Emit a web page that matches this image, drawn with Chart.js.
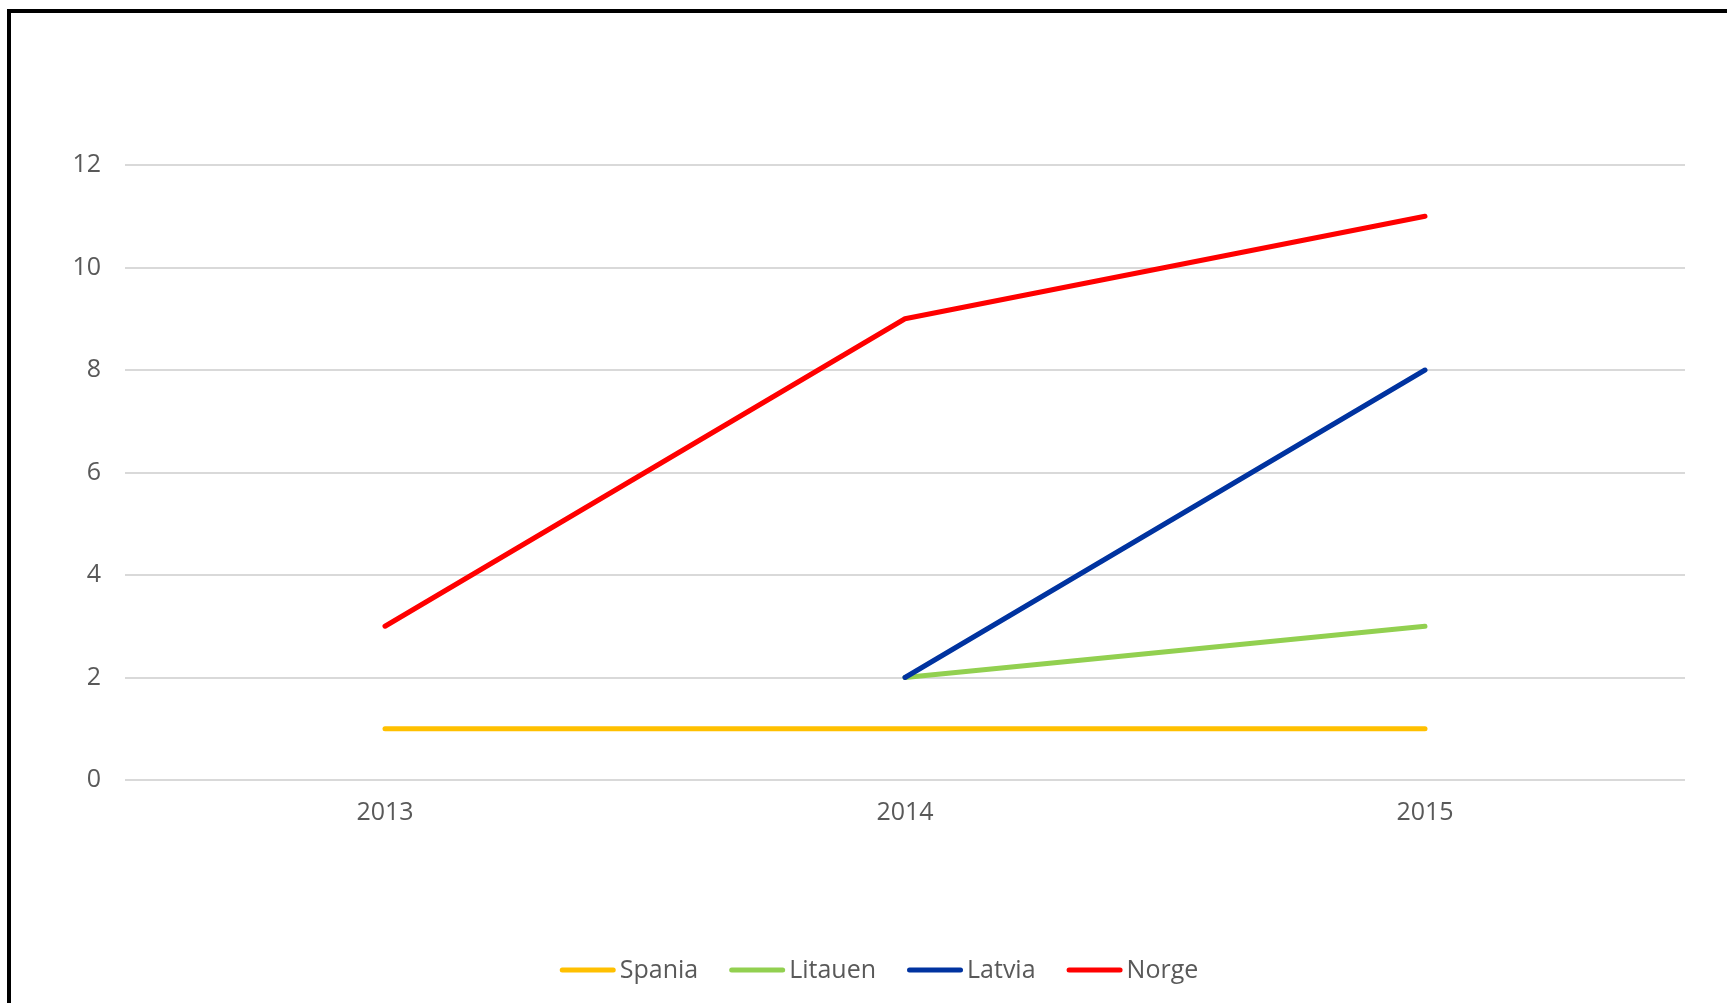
<!DOCTYPE html>
<html>
<head>
<meta charset="utf-8">
<script src="https://cdn.jsdelivr.net/npm/chart.js@4.4.1/dist/chart.umd.min.js"></script>
<style>
  html, body { margin: 0; padding: 0; background: #fff; overflow: hidden; }
  #wrap { position: absolute; left: 0; top: 0; width: 1727px; height: 1003px; }
  #frame { position: absolute; left: 7px; top: 9px; width: 1800px; height: 1100px; border: 4px solid #000; }
  canvas { position: absolute; left: 0; top: 0; }
</style>
</head>
<body>
<div id="wrap">
  <div id="frame"></div>
  <canvas id="grafico" width="1727" height="1003"></canvas>
</div>
<script>
const years = ['2013', '2014', '2015'];
const spania = [1, 1, 1];
const litauen = [null, 2, 3];
const latvia = [null, 2, 8];
const norge = [3, 9, 11];
const yTicks = [0, 2, 4, 6, 8, 10, 12];

const fonte = '"Open Sans", "Liberation Sans", Arial, sans-serif';
const cinza = '#595959';

// legenda desenhada a mao para acertar espacos
const legendaPlugin = {
    id: 'legendaLinhas',
    afterDraw(chart) {
        const ctx = chart.ctx;
        const caixa = 56, gap = 4, entre = 31;
        ctx.save();
        ctx.font = '25px ' + fonte;
        const itens = chart.data.datasets.map(ds => ({
            texto: ds.label,
            cor: ds.borderColor,
            w: ctx.measureText(ds.label).width
        }));
        let total = itens.reduce((s, it) => s + caixa + gap + it.w, 0) + entre * (itens.length - 1);
        let x = 879 - total / 2;
        const y = 970;
        itens.forEach(it => {
            ctx.strokeStyle = it.cor;
            ctx.lineWidth = 5;
            ctx.lineCap = 'round';
            ctx.beginPath();
            ctx.moveTo(x + 2.5, y);
            ctx.lineTo(x + caixa - 2.5, y);
            ctx.stroke();
            ctx.fillStyle = cinza;
            ctx.textBaseline = 'middle';
            ctx.fillText(it.texto, x + caixa + gap, y + 1);
            x += caixa + gap + it.w + entre;
        });
        ctx.restore();
    }
};

function serie(label, dados, cor, ordem) {
    return {
        label: label,
        data: dados,
        borderColor: cor,
        backgroundColor: cor,
        borderWidth: 5,
        borderCapStyle: 'round',
        borderJoinStyle: 'round',
        pointRadius: 0,
        pointHoverRadius: 0,
        tension: 0,
        spanGaps: false,
        order: ordem
    };
}

const ctx = document.getElementById('grafico').getContext('2d');
new Chart(ctx, {
    type: 'line',
    data: {
        labels: years,
        datasets: [
            serie('Spania', spania, '#ffc000', 4),
            serie('Litauen', litauen, '#92d050', 3),
            serie('Latvia', latvia, '#0033a0', 2),
            serie('Norge', norge, '#ff0000', 1)
        ]
    },
    options: {
        responsive: false,
        animation: false,
        devicePixelRatio: 1,
        layout: { padding: { left: 0, right: 42, top: 165, bottom: 163 } },
        plugins: {
            legend: { display: false },
            tooltip: { enabled: false },
            title: { display: false }
        },
        scales: {
            x: {
                offset: true,
                grid: { display: false, drawTicks: false },
                border: { display: false },
                ticks: { color: cinza, font: { family: fonte, size: 25 }, padding: 18, maxRotation: 0 },
                afterFit(scale) { scale.height = 60; }
            },
            y: {
                min: 0,
                max: 12,
                afterBuildTicks(scale) { scale.ticks = yTicks.map(v => ({ value: v })); },
                grid: { color: '#d9d9d9', lineWidth: 2, drawTicks: false },
                border: { display: false },
                ticks: { color: cinza, font: { family: fonte, size: 25 }, padding: 24 },
                afterFit(scale) { scale.width = 125; }
            }
        }
    },
    plugins: [legendaPlugin]
});
</script>
</body>
</html>
